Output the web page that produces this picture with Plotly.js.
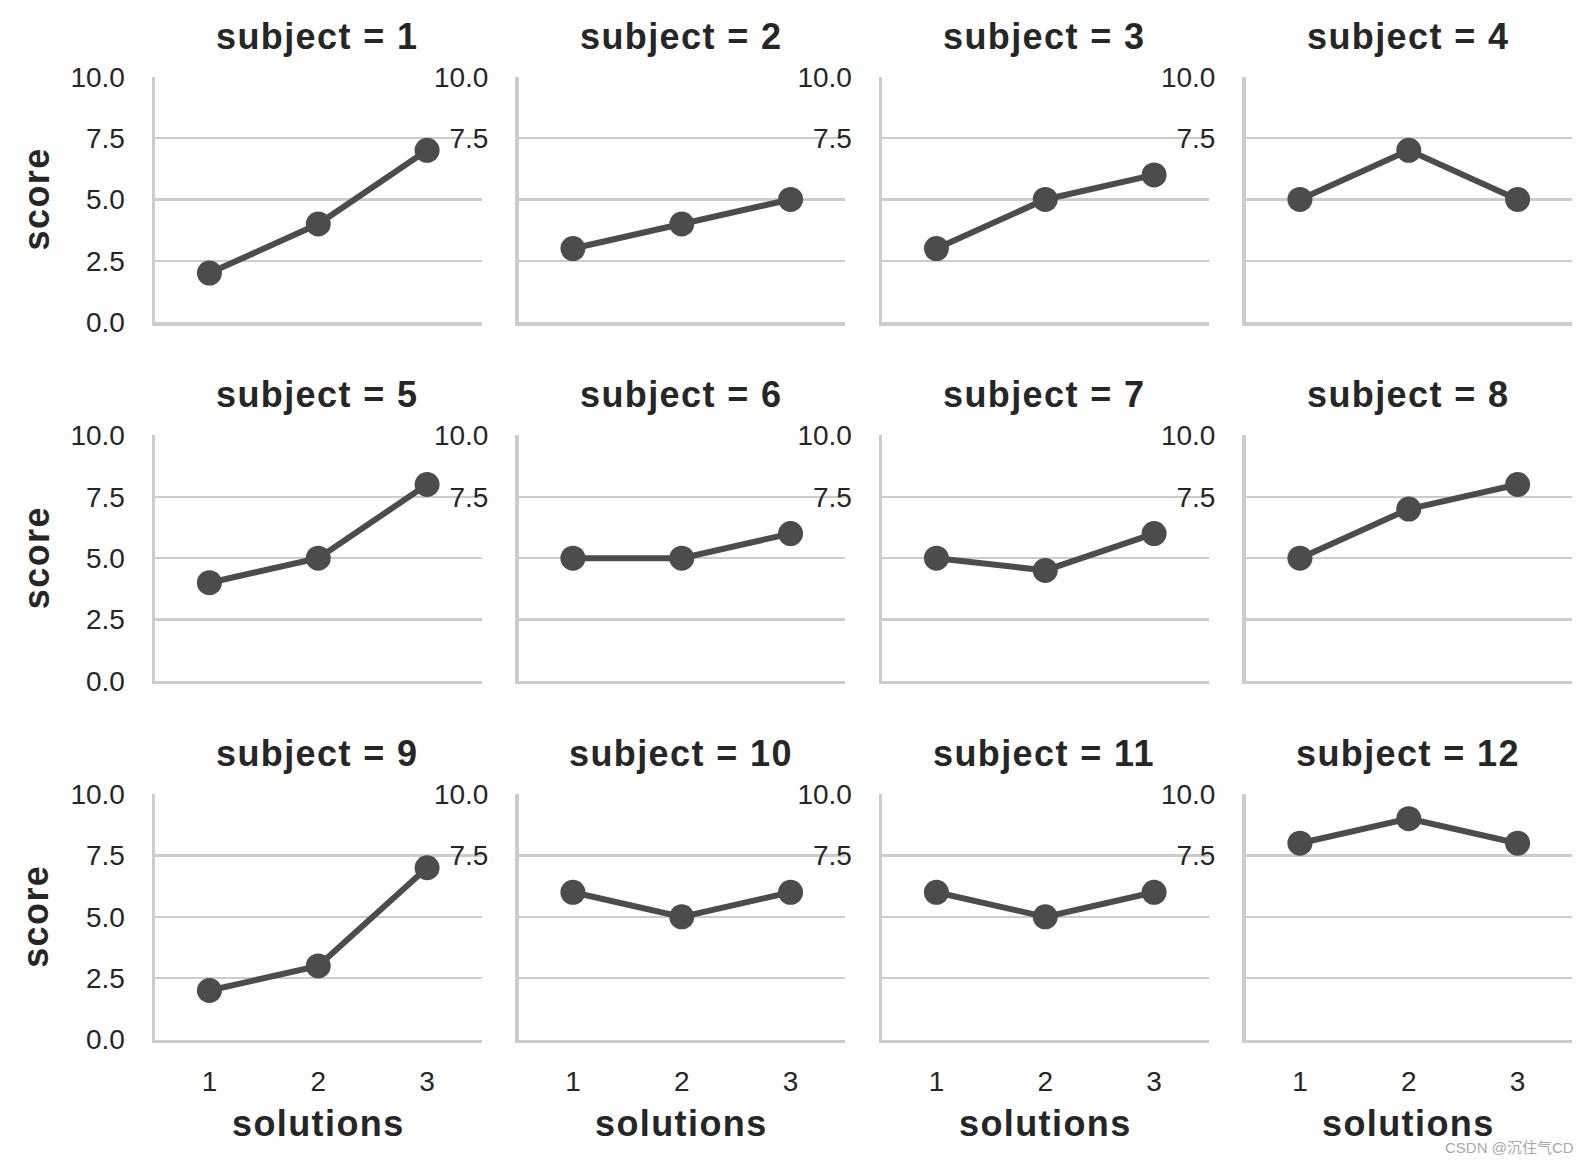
<!DOCTYPE html>
<html>
<head>
<meta charset="utf-8">
<script src="https://cdn.plot.ly/plotly-3.0.1.min.js"></script>
<style>
  html, body { margin: 0; padding: 0; background: #ffffff; }
  #chart { width: 1591px; height: 1164px; }
  text[style*="font-weight: 700"], text[style*="font-weight: bold"] { letter-spacing: 1.4px; }
</style>
</head>
<body>
<div id="chart"></div>
<script>
// ---- data ----
const solutions = ['1', '2', '3'];
const subjects = [1, 2, 3, 4, 5, 6, 7, 8, 9, 10, 11, 12];
const score1 = [2, 4, 7];
const score2 = [3, 4, 5];
const score3 = [3, 5, 6];
const score4 = [5, 7, 5];
const score5 = [4, 5, 8];
const score6 = [5, 5, 6];
const score7 = [5, 4.5, 6];
const score8 = [5, 7, 8];
const score9 = [2, 3, 7];
const score10 = [6, 5, 6];
const score11 = [6, 5, 6];
const score12 = [8, 9, 8];
const yTickVals = [0, 2.5, 5, 7.5, 10];
const yTickText = ['0.0', '2.5', '5.0', '7.5', '10.0'];
const yTickTextInner = ['', '', '', '7.5', '10.0'];

const allScores = [score1, score2, score3, score4, score5, score6,
                   score7, score8, score9, score10, score11, score12];

// ---- layout geometry (pixels) ----
const W = 1591, H = 1164;
const colLeft0 = 155.0, colStep = 363.5, panelW = 326.5;
const rowTop0 = 76.7, rowStep = 358.7, panelH = 245.5;
const textColor = '#262626';
const gridColor = '#cccccc';
const lineColor = '#4c4c4c';
const fontFam = '"Liberation Sans", Arial, Helvetica, sans-serif';

const px2x = p => p / W;
const px2y = p => 1 - p / H;

const traces = [];
const layout = {
  width: W, height: H,
  margin: {l: 0, r: 0, t: 0, b: 0},
  paper_bgcolor: '#ffffff',
  plot_bgcolor: '#ffffff',
  showlegend: false,
  font: {family: fontFam, color: textColor},
  annotations: []
};

subjects.forEach((s, i) => {
  const r = Math.floor(i / 4), c = i % 4;
  const left = colLeft0 + c * colStep, right = left + panelW;
  const top = rowTop0 + r * rowStep, bottom = top + panelH;
  const sfx = i === 0 ? '' : String(i + 1);
  const xa = 'x' + sfx, ya = 'y' + sfx;

  traces.push({
    type: 'scatter', mode: 'lines+markers',
    x: solutions, y: allScores[i],
    xaxis: xa, yaxis: ya,
    line: {color: lineColor, width: 6},
    marker: {color: lineColor, size: 25},
    cliponaxis: false,
    hoverinfo: 'skip'
  });

  layout['xaxis' + sfx] = {
    domain: [px2x(left), px2x(right)],
    anchor: ya,
    type: 'category',
    range: [-0.5, 2.5],
    showgrid: false, zeroline: false,
    showline: true, linecolor: gridColor, linewidth: 3.5,
    ticks: '',
    showticklabels: r === 2,
    ticklabelstandoff: 14,
    tickfont: {family: fontFam, size: 28, color: textColor},
    fixedrange: true
  };
  layout['yaxis' + sfx] = {
    domain: [px2y(bottom), px2y(top)],
    anchor: xa,
    range: [0, 10],
    tickmode: 'array',
    tickvals: yTickVals,
    ticktext: c === 0 ? yTickText : yTickTextInner,
    showgrid: true, gridcolor: gridColor, gridwidth: 2.5,
    zeroline: false,
    showline: true, linecolor: gridColor, linewidth: 3.5,
    ticks: '',
    ticklabelstandoff: 21,
    tickfont: {family: fontFam, size: 28, color: textColor},
    fixedrange: true
  };

  // facet title
  layout.annotations.push({
    xref: 'paper', yref: 'paper',
    x: px2x((left + right) / 2 - 1), y: px2y(36 + r * rowStep),
    xanchor: 'center', yanchor: 'middle',
    text: 'subject = ' + s, showarrow: false,
    font: {family: fontFam, size: 36, color: textColor, weight: 700}
  });
  if (c === 0) {
    layout.annotations.push({
      xref: 'paper', yref: 'paper',
      x: px2x(36), y: px2y((top + bottom) / 2),
      xanchor: 'center', yanchor: 'middle', textangle: -90,
      text: 'score', showarrow: false,
      font: {family: fontFam, size: 36, color: textColor, weight: 700}
    });
  }
  if (r === 2) {
    layout.annotations.push({
      xref: 'paper', yref: 'paper',
      x: px2x((left + right) / 2), y: px2y(1123),
      xanchor: 'center', yanchor: 'middle',
      text: 'solutions', showarrow: false,
      font: {family: fontFam, size: 36, color: textColor, weight: 700}
    });
  }
});

layout.annotations.push({
  xref: 'paper', yref: 'paper',
  x: px2x(1576), y: px2y(1147),
  xanchor: 'right', yanchor: 'middle',
  text: 'CSDN @沉住气CD', showarrow: false,
  font: {family: '"Liberation Sans", "Noto Sans CJK SC", sans-serif', size: 15, color: '#a8a8a8'}
});

Plotly.newPlot('chart', traces, layout, {staticPlot: true, displayModeBar: false});
</script>
</body>
</html>
